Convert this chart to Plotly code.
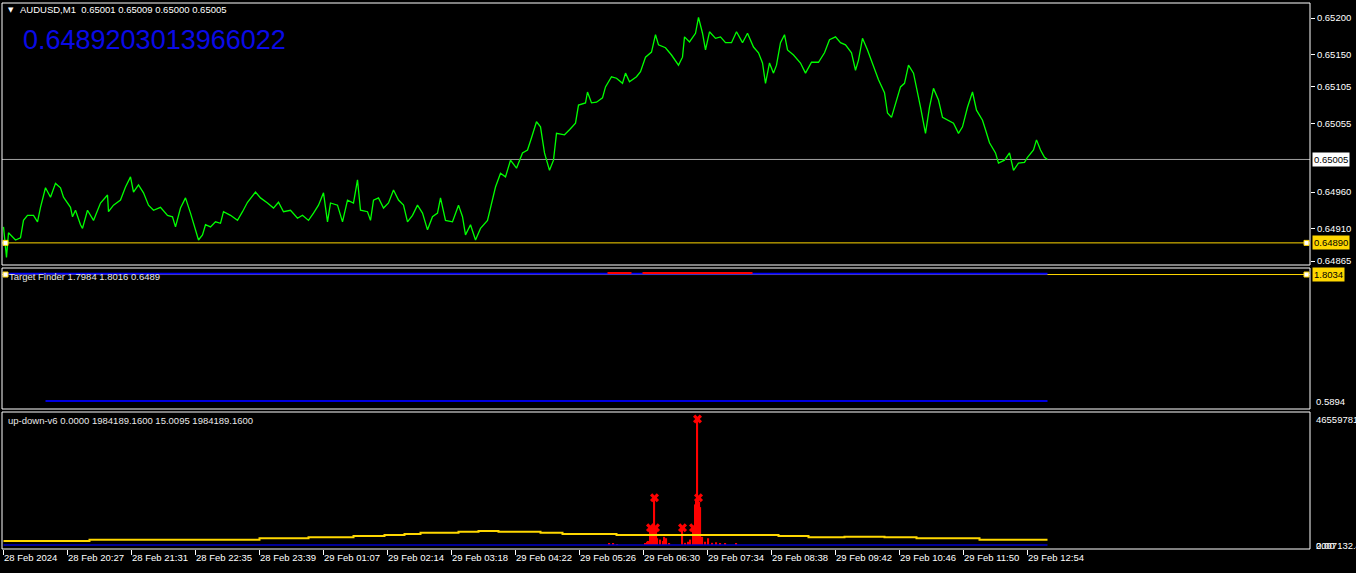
import plotly.graph_objects as go

# ---------------- data ----------------
symbol_title = "AUDUSD,M1  0.65001 0.65009 0.65000 0.65005"
big_value_text = "0.6489203013966022"
tf_title = "Target Finder 1.7984 1.8016 0.6489"
ud_title = "up-down-v6 0.0000 1984189.1600 15.0095 1984189.1600"

# price (bar index, close)
price_bar = [0, 2, 3, 5, 12, 17, 20, 24, 30, 34, 37, 42, 47, 52, 57, 60, 67, 69, 72, 77, 79, 84, 87, 90, 97,
             104, 105, 110, 117, 122, 127, 130, 135, 140, 145, 150, 157, 164, 169, 172, 177, 182, 187, 192,
             195, 199, 202, 207, 212, 217, 220, 227, 234, 239, 244, 252, 257, 264, 270, 275, 280, 287, 294,
             299, 305, 310, 315, 320, 324, 327, 334, 339, 344, 350, 354, 357, 364, 367, 370, 375, 380, 385,
             390, 395, 400, 404, 409, 414, 419, 424, 429, 434, 437, 442, 449, 455, 459, 462, 467, 472, 477,
             484, 489, 492, 497, 502, 507, 513, 519, 524, 528, 533, 537, 541, 546, 550, 553, 561, 566, 572,
             575, 582, 584, 588, 593, 599, 602, 608, 613, 619, 622, 626, 633, 637, 642, 648, 652, 655, 662,
             668, 675, 679, 681, 686, 692, 695, 699, 702, 706, 712, 717, 722, 728, 733, 739, 744, 750, 755,
             759, 762, 766, 770, 773, 777, 781, 784, 790, 797, 802, 808, 815, 821, 826, 832, 837, 842, 848,
             852, 855, 859, 864, 870, 875, 881, 884, 888, 892, 897, 901, 905, 910, 913, 917, 922, 926, 930,
             935, 939, 944, 950, 955, 959, 964, 969, 973, 979, 982, 986, 992, 995, 1001, 1006, 1010, 1015,
             1021, 1024, 1030, 1033, 1037, 1041, 1044]
price_close = [0.64912, 0.64884, 0.64870, 0.64904, 0.64894, 0.64897, 0.64921, 0.64928, 0.64928, 0.64919,
               0.64939, 0.64966, 0.64953, 0.64972, 0.64966, 0.64953, 0.64939, 0.64926, 0.64935, 0.64915,
               0.64910, 0.64935, 0.64928, 0.64921, 0.64945, 0.64956, 0.64933, 0.64942, 0.64949, 0.64967,
               0.64981, 0.64960, 0.64970, 0.64959, 0.64942, 0.64935, 0.64939, 0.64928, 0.64926, 0.64912,
               0.64938, 0.64952, 0.64931, 0.64908, 0.64894, 0.64901, 0.64915, 0.64912, 0.64919, 0.64917,
               0.64933, 0.64928, 0.64921, 0.64933, 0.64946, 0.64960, 0.64952, 0.64945, 0.64938, 0.64946,
               0.64933, 0.64935, 0.64924, 0.64928, 0.64921, 0.64931, 0.64942, 0.64959, 0.64919, 0.64945,
               0.64942, 0.64919, 0.64949, 0.64945, 0.64977, 0.64935, 0.64933, 0.64921, 0.64949, 0.64952,
               0.64938, 0.64945, 0.64963, 0.64949, 0.64942, 0.64919, 0.64928, 0.64942, 0.64931, 0.64908,
               0.64926, 0.64931, 0.64952, 0.64921, 0.64919, 0.64942, 0.64926, 0.64901, 0.64915, 0.64894,
               0.64910, 0.64921, 0.64949, 0.64967, 0.64986, 0.64981, 0.65004, 0.64993, 0.65014, 0.65018,
               0.65035, 0.65057, 0.65050, 0.65014, 0.64990, 0.65004, 0.65041, 0.65039, 0.65046, 0.65055,
               0.65080, 0.65083, 0.65098, 0.65083, 0.65084, 0.65090, 0.65105, 0.65119, 0.65117, 0.65110,
               0.65124, 0.65112, 0.65119, 0.65126, 0.65146, 0.65153, 0.65177, 0.65163, 0.65159, 0.65149,
               0.65135, 0.65146, 0.65174, 0.65167, 0.65179, 0.65201, 0.65179, 0.65156, 0.65181, 0.65172,
               0.65174, 0.65166, 0.65166, 0.65181, 0.65166, 0.65179, 0.65160, 0.65152, 0.65138, 0.65110,
               0.65138, 0.65124, 0.65135, 0.65166, 0.65177, 0.65156, 0.65149, 0.65138, 0.65124, 0.65139,
               0.65139, 0.65152, 0.65170, 0.65174, 0.65166, 0.65163, 0.65152, 0.65128, 0.65142, 0.65172,
               0.65156, 0.65132, 0.65115, 0.65097, 0.65069, 0.65063, 0.65083, 0.65105, 0.65110, 0.65135,
               0.65124, 0.65105, 0.65077, 0.65041, 0.65077, 0.65103, 0.65087, 0.65063, 0.65059, 0.65055,
               0.65041, 0.65050, 0.65077, 0.65098, 0.65073, 0.65059, 0.65046, 0.65028, 0.65014, 0.65000,
               0.65004, 0.65014, 0.64990, 0.65000, 0.65001, 0.65008, 0.65018, 0.65032, 0.65018, 0.65008,
               0.65005]

bid_level = 0.65005
target_level = 0.64890

price_tick_vals = [0.65200, 0.65150, 0.65105, 0.65055, 0.64960, 0.64910, 0.64865]
price_tick_text = ["0.65200", "0.65150", "0.65105", "0.65055", "0.64960", "0.64910", "0.64865"]

# Target Finder panel
tf_upper_bar = [4, 1044]
tf_upper_val = [1.811, 1.811]
tf_red_seg1_bar = [604, 628]
tf_red_seg2_bar = [639, 749]
tf_red_val = 1.818
tf_lower_bar = [42, 1044]
tf_lower_val = [0.5894, 0.5894]
tf_level = 1.8034
tf_min_label = "0.5894"

# up-down panel
ud_zero_bar = [0, 1044]
ud_zero_val = [0, 0]
ud_avg_bar = [0, 86, 256, 305, 350, 381, 401, 417, 455, 475, 495, 537, 559, 613, 775, 805, 841, 881,
              913, 976, 1044]
ud_avg_val = [1.48e6, 1.96e6, 2.48e6, 2.85e6, 3.33e6, 3.70e6, 4.06e6, 4.55e6, 4.91e6, 5.17e6, 4.91e6,
              4.55e6, 4.06e6, 3.70e6, 3.33e6, 2.85e6, 3.07e6, 2.85e6, 2.48e6, 1.98e6, 1.98e6]
ud_hist_bar = [606, 610, 614, 642, 644, 645, 647, 648, 649, 650, 651, 652, 653, 654, 657, 660, 661, 663,
               666, 679, 682, 685, 687, 690, 691, 692, 693, 694, 695, 696, 697, 699, 702, 705, 709, 713,
               717, 722, 733]
ud_hist_val = [0.4e6, 0.4e6, 0.3e6, 0.5e6, 1.2e6, 1.5e6, 6.4e6, 6.4e6, 6.4e6, 6.4e6, 17.5e6, 6.4e6,
               6.4e6, 2.5e6, 2.0e6, 1.5e6, 3.0e6, 2.5e6, 0.6e6, 6.4e6, 0.8e6, 1.2e6, 2.0e6, 6.4e6,
               6.4e6, 15.0e6, 17.0e6, 46.56e6, 17.5e6, 16.0e6, 14.0e6, 3.0e6, 1.2e6, 2.5e6, 0.8e6,
               1.0e6, 0.5e6, 0.4e6, 0.4e6]
ud_cross_bar = [647, 652, 651, 679, 690, 694, 695]
ud_cross_val = [6.4e6, 6.4e6, 17.5e6, 6.4e6, 6.4e6, 46.56e6, 17.5e6]
ud_top_label = "46559781."
ud_bottom_labels = ["0.00", "2007132.4"]

time_tick_bar = [0, 64, 128, 192, 256, 320, 384, 448, 512, 576, 640, 704, 768, 832, 896, 960, 1024]
time_tick_text = ["28 Feb 2024", "28 Feb 20:27", "28 Feb 21:31", "28 Feb 22:35", "28 Feb 23:39",
                  "29 Feb 01:07", "29 Feb 02:14", "29 Feb 03:18", "29 Feb 04:22", "29 Feb 05:26",
                  "29 Feb 06:30", "29 Feb 07:34", "29 Feb 08:38", "29 Feb 09:42", "29 Feb 10:46",
                  "29 Feb 11:50", "29 Feb 12:54"]

# ---------------- layout helpers ----------------
W, H = 1356, 573
ML, MR, MT, MB = 2, 46, 3, 24
PW, PH = W - ML - MR, H - MT - MB


def px_x(x):
    return (x - ML) / PW


def px_y(y):
    return (H - MB - y) / PH


FONT = "Liberation Sans, Arial, sans-serif"
FS = 9.5
GOLD = "#FFD700"

d1 = [px_y(265), 1.0]
d2 = [px_y(409), px_y(268)]
d3 = [0.0, px_y(412)]
XR = [-1.5, PW - 1.5]

fig = go.Figure()

# main price
fig.add_trace(go.Scatter(x=price_bar, y=price_close, mode="lines",
                         line=dict(color="#00FF00", width=1.3), xaxis="x", yaxis="y",
                         hoverinfo="skip"))
# target finder
fig.add_trace(go.Scatter(x=tf_upper_bar, y=tf_upper_val, mode="lines",
                         line=dict(color="#0000FF", width=2), xaxis="x2", yaxis="y2"))
for seg in (tf_red_seg1_bar, tf_red_seg2_bar):
    fig.add_trace(go.Scatter(x=seg, y=[tf_red_val, tf_red_val], mode="lines",
                             line=dict(color="#FF0000", width=2), xaxis="x2", yaxis="y2"))
fig.add_trace(go.Scatter(x=tf_lower_bar, y=tf_lower_val, mode="lines",
                         line=dict(color="#0000E0", width=2), xaxis="x2", yaxis="y2"))
# up-down
fig.add_trace(go.Scatter(x=ud_zero_bar, y=ud_zero_val, mode="lines",
                         line=dict(color="#0000C8", width=1.5), xaxis="x3", yaxis="y3"))
fig.add_trace(go.Bar(x=ud_hist_bar, y=ud_hist_val, width=1.2, marker=dict(color="#FF0000", line_width=0),
                     xaxis="x3", yaxis="y3"))
fig.add_trace(go.Scatter(x=ud_avg_bar, y=ud_avg_val, mode="lines", line_shape="hv",
                         line=dict(color=GOLD, width=2), xaxis="x3", yaxis="y3"))
fig.add_trace(go.Scatter(x=ud_cross_bar, y=ud_cross_val, mode="markers",
                         marker=dict(symbol="x", size=8, color="#FF0000", line_width=0),
                         xaxis="x3", yaxis="y3"))

# level end markers (white squares with yellow border)
fig.add_trace(go.Scatter(x=[XR[0] + 3.5, XR[1] - 3.5], y=[target_level, target_level], mode="markers",
                         marker=dict(symbol="square", size=5, color="white", line=dict(color=GOLD, width=1)),
                         xaxis="x", yaxis="y", cliponaxis=False))
fig.add_trace(go.Scatter(x=[XR[0] + 3.5, XR[1] - 3.5], y=[tf_level, tf_level], mode="markers",
                         marker=dict(symbol="square", size=5, color="white", line=dict(color=GOLD, width=1)),
                         xaxis="x2", yaxis="y2", cliponaxis=False))

shapes = []
shapes.append(dict(type="line", xref="paper", yref="y", x0=0, x1=1, y0=bid_level, y1=bid_level,
                   line=dict(color="#A0A0A0", width=1), layer="below"))
shapes.append(dict(type="line", xref="paper", yref="y", x0=0, x1=1, y0=target_level, y1=target_level,
                   line=dict(color=GOLD, width=1), layer="below"))
shapes.append(dict(type="line", xref="paper", yref="y2", x0=0, x1=1, y0=tf_level, y1=tf_level,
                   line=dict(color=GOLD, width=1), layer="below"))
for d in (d1, d2, d3):
    shapes.append(dict(type="rect", xref="paper", yref="paper", x0=0, x1=1, y0=d[0], y1=d[1],
                       line=dict(color="white", width=1), fillcolor="rgba(0,0,0,0)"))

ann = []
ann.append(dict(text="▼", x=px_x(6), y=px_y(10), xref="paper", yref="paper", xanchor="left",
                yanchor="middle", showarrow=False, font=dict(family="DejaVu Sans", size=7, color="white")))
ann.append(dict(text=symbol_title, x=px_x(18), y=px_y(10), xref="paper", yref="paper", xanchor="left",
                yanchor="middle", showarrow=False, font=dict(family=FONT, size=FS, color="white")))
ann.append(dict(text=big_value_text, x=px_x(21), y=px_y(40), xref="paper", yref="paper", xanchor="left",
                yanchor="middle", showarrow=False, font=dict(family=FONT, size=27, color="#0A0AE6")))
ann.append(dict(text=tf_title, x=px_x(7), y=px_y(276), xref="paper", yref="paper", xanchor="left",
                yanchor="middle", showarrow=False, font=dict(family=FONT, size=FS, color="#E8E8E8")))
ann.append(dict(text=ud_title, x=px_x(6), y=px_y(420), xref="paper", yref="paper", xanchor="left",
                yanchor="middle", showarrow=False, font=dict(family=FONT, size=FS, color="#E8E8E8")))
# right-side label boxes
ann.append(dict(text="0.65005", x=1, xshift=2, y=bid_level, xref="paper", yref="y", xanchor="left",
                yanchor="middle", showarrow=False, bgcolor="white", borderpad=1,
                font=dict(family=FONT, size=FS, color="black")))
ann.append(dict(text="0.64890", x=1, xshift=2, y=target_level, xref="paper", yref="y", xanchor="left",
                yanchor="middle", showarrow=False, bgcolor=GOLD, borderpad=1,
                font=dict(family=FONT, size=FS, color="black")))
ann.append(dict(text="1.8034", x=1, xshift=2, y=tf_level, xref="paper", yref="y2", xanchor="left",
                yanchor="middle", showarrow=False, bgcolor=GOLD, borderpad=1,
                font=dict(family=FONT, size=FS, color="black")))
ann.append(dict(text=tf_min_label, x=1, xshift=4, y=tf_lower_val[0], xref="paper", yref="y2",
                xanchor="left", yanchor="middle", showarrow=False,
                font=dict(family=FONT, size=FS, color="white")))
ann.append(dict(text=ud_top_label, x=1, xshift=4, y=max(ud_cross_val), xref="paper", yref="y3",
                xanchor="left", yanchor="middle", showarrow=False,
                font=dict(family=FONT, size=FS, color="white")))
for t in ud_bottom_labels:
    ann.append(dict(text=t, x=1, xshift=4, y=0, xref="paper", yref="y3", xanchor="left",
                    yanchor="middle", showarrow=False, font=dict(family=FONT, size=FS, color="white")))

axis_common = dict(range=XR, showgrid=False, zeroline=False, showline=False, fixedrange=True,
                   automargin=False)

fig.update_layout(
    width=W, height=H,
    margin=dict(l=ML, r=MR, t=MT, b=MB, autoexpand=False),
    paper_bgcolor="black", plot_bgcolor="black",
    showlegend=False,
    barmode="overlay",
    font=dict(family=FONT, size=FS, color="white"),
    xaxis=dict(domain=[0, 1], anchor="y", showticklabels=False, ticks="", **axis_common),
    xaxis2=dict(domain=[0, 1], anchor="y2", showticklabels=False, ticks="", **axis_common),
    xaxis3=dict(domain=[0, 1], anchor="y3", tickmode="array", tickvals=time_tick_bar,
                ticktext=time_tick_text, ticks="outside", ticklen=5, tickcolor="white", tickwidth=1,
                ticklabelposition="outside right", tickangle=0,
                tickfont=dict(family=FONT, size=FS, color="white"), **axis_common),
    yaxis=dict(domain=d1, anchor="x", side="right", range=[0.648595, 0.652207],
               tickmode="array", tickvals=price_tick_vals, ticktext=price_tick_text,
               ticks="outside", ticklen=4, tickcolor="white", tickwidth=1,
               tickfont=dict(family=FONT, size=FS, color="white"), automargin=False,
               showgrid=False, zeroline=False, showline=False, fixedrange=True),
    yaxis2=dict(domain=d2, anchor="x2", side="right", range=[0.5126, 1.866], showticklabels=False,
                ticks="", showgrid=False, zeroline=False, showline=False, fixedrange=True, automargin=False),
    yaxis3=dict(domain=d3, anchor="x3", side="right", range=[-1.478e6, 4.915e7], showticklabels=False,
                ticks="", showgrid=False, zeroline=False, showline=False, fixedrange=True, automargin=False),
    shapes=shapes,
    annotations=ann,
)

fig.write_html("out.html", config={"displayModeBar": False},
               post_script="document.body.style.margin='0';document.body.style.background='black';"
                           "document.body.style.overflow='hidden';")
